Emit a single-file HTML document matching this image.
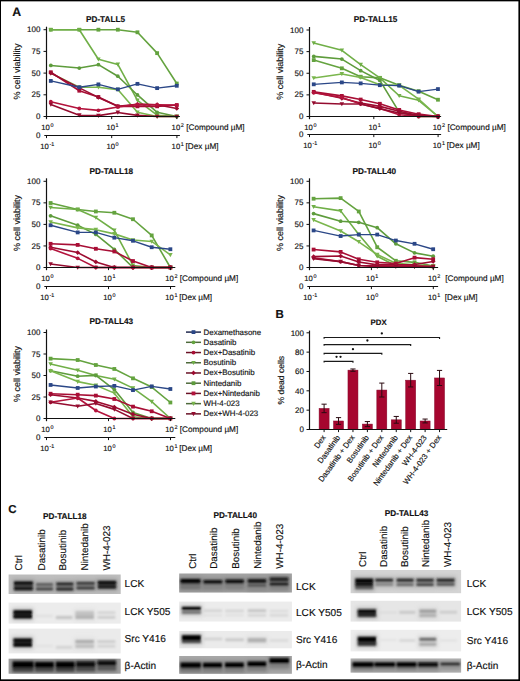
<!DOCTYPE html>
<html><head><meta charset="utf-8"><style>html,body{margin:0;padding:0;background:#fff;}svg{display:block;}</style></head>
<body><svg width="520" height="681" viewBox="0 0 520 681" font-family="Liberation Sans, sans-serif">
<defs><filter id="bl1" x="-20%" y="-100%" width="140%" height="300%"><feGaussianBlur stdDeviation="0.85"/></filter><filter id="blh" x="-20%" y="-100%" width="140%" height="300%"><feGaussianBlur stdDeviation="2.2"/></filter><filter id="bl2" x="-20%" y="-100%" width="140%" height="300%"><feGaussianBlur stdDeviation="0.7"/></filter><filter id="bl3" x="-5%" y="-20%" width="110%" height="140%"><feGaussianBlur stdDeviation="0.5"/></filter></defs>
<style>text{stroke:#111;stroke-width:0.15px;text-rendering:geometricPrecision;}</style>
<rect width="520" height="681" fill="#fff"/>
<text x="12.20" y="15.80" font-size="12.3" text-anchor="start" font-weight="bold" fill="#111" >A</text>
<text x="275.60" y="317.70" font-size="11.5" text-anchor="start" font-weight="bold" fill="#111" >B</text>
<text x="8.20" y="512.70" font-size="11.5" text-anchor="start" font-weight="bold" fill="#111" >C</text>
<text x="105.50" y="22.00" font-size="8.2" text-anchor="middle" font-weight="bold" fill="#111" >PD-TALL5</text>
<text x="0" y="0" font-size="9" text-anchor="middle" fill="#111" transform="translate(20.30,71.60) rotate(-90)">% cell viability</text>
<line x1="43.50" y1="116.50" x2="46.50" y2="116.50" stroke="#111" stroke-width="1"/>
<text x="40.40" y="119.10" font-size="8" text-anchor="end" font-weight="normal" fill="#111" >0</text>
<line x1="43.50" y1="94.80" x2="46.50" y2="94.80" stroke="#111" stroke-width="1"/>
<text x="40.40" y="97.40" font-size="8" text-anchor="end" font-weight="normal" fill="#111" >25</text>
<line x1="43.50" y1="73.10" x2="46.50" y2="73.10" stroke="#111" stroke-width="1"/>
<text x="40.40" y="75.70" font-size="8" text-anchor="end" font-weight="normal" fill="#111" >50</text>
<line x1="43.50" y1="51.40" x2="46.50" y2="51.40" stroke="#111" stroke-width="1"/>
<text x="40.40" y="54.00" font-size="8" text-anchor="end" font-weight="normal" fill="#111" >75</text>
<line x1="43.50" y1="29.70" x2="46.50" y2="29.70" stroke="#111" stroke-width="1"/>
<text x="40.40" y="32.30" font-size="8" text-anchor="end" font-weight="normal" fill="#111" >100</text>
<path d="M50.80,29.70L79.30,29.70L98.40,29.70L117.83,29.70L137.45,32.30L157.14,53.14L176.77,83.52" fill="none" stroke="#64a33f" stroke-width="1.6" stroke-linejoin="round"/>
<rect x="48.90" y="27.80" width="3.80" height="3.80" fill="#64a33f"/>
<rect x="77.40" y="27.80" width="3.80" height="3.80" fill="#64a33f"/>
<rect x="96.50" y="27.80" width="3.80" height="3.80" fill="#64a33f"/>
<rect x="115.93" y="27.80" width="3.80" height="3.80" fill="#64a33f"/>
<rect x="135.55" y="30.40" width="3.80" height="3.80" fill="#64a33f"/>
<rect x="155.24" y="51.24" width="3.80" height="3.80" fill="#64a33f"/>
<rect x="174.87" y="81.62" width="3.80" height="3.80" fill="#64a33f"/>
<path d="M50.80,29.70L79.30,29.70L98.40,59.21L117.83,64.42L137.45,100.27L157.14,115.20L176.77,116.50" fill="none" stroke="#70af47" stroke-width="1.6" stroke-linejoin="round"/>
<path d="M48.52,27.88L53.08,27.88L50.80,31.98Z" fill="#70af47"/>
<path d="M77.02,27.88L81.58,27.88L79.30,31.98Z" fill="#70af47"/>
<path d="M96.12,57.39L100.68,57.39L98.40,61.49Z" fill="#70af47"/>
<path d="M115.55,62.60L120.11,62.60L117.83,66.70Z" fill="#70af47"/>
<path d="M135.17,98.44L139.73,98.44L137.45,102.55Z" fill="#70af47"/>
<path d="M154.86,113.37L159.42,113.37L157.14,117.48Z" fill="#70af47"/>
<path d="M174.49,114.68L179.05,114.68L176.77,118.78Z" fill="#70af47"/>
<path d="M50.80,65.46L79.30,68.07L98.40,64.68L117.83,76.22L137.45,94.97L157.14,112.33L176.77,116.50" fill="none" stroke="#5e9c3c" stroke-width="1.6" stroke-linejoin="round"/>
<circle cx="50.80" cy="65.46" r="1.90" fill="#5e9c3c"/>
<circle cx="79.30" cy="68.07" r="1.90" fill="#5e9c3c"/>
<circle cx="98.40" cy="64.68" r="1.90" fill="#5e9c3c"/>
<circle cx="117.83" cy="76.22" r="1.90" fill="#5e9c3c"/>
<circle cx="137.45" cy="94.97" r="1.90" fill="#5e9c3c"/>
<circle cx="157.14" cy="112.33" r="1.90" fill="#5e9c3c"/>
<circle cx="176.77" cy="116.50" r="1.90" fill="#5e9c3c"/>
<path d="M50.80,73.10L79.30,87.25L98.40,87.25L117.83,89.59L137.45,112.33L157.14,116.50L176.77,116.50" fill="none" stroke="#7ab64d" stroke-width="1.6" stroke-linejoin="round"/>
<path d="M48.52,71.28L53.08,71.28L50.80,75.38Z" fill="#7ab64d"/>
<path d="M77.02,85.42L81.58,85.42L79.30,89.53Z" fill="#7ab64d"/>
<path d="M96.12,85.42L100.68,85.42L98.40,89.53Z" fill="#7ab64d"/>
<path d="M115.55,87.77L120.11,87.77L117.83,91.87Z" fill="#7ab64d"/>
<path d="M135.17,110.51L139.73,110.51L137.45,114.61Z" fill="#7ab64d"/>
<path d="M154.86,114.68L159.42,114.68L157.14,118.78Z" fill="#7ab64d"/>
<path d="M174.49,114.68L179.05,114.68L176.77,118.78Z" fill="#7ab64d"/>
<path d="M50.80,72.23L79.30,90.72L98.40,96.97L117.83,106.34L137.45,106.34L157.14,106.34L176.77,105.04" fill="none" stroke="#a80e35" stroke-width="1.6" stroke-linejoin="round"/>
<rect x="48.90" y="70.33" width="3.80" height="3.80" fill="#a80e35"/>
<rect x="77.40" y="88.82" width="3.80" height="3.80" fill="#a80e35"/>
<rect x="96.50" y="95.07" width="3.80" height="3.80" fill="#a80e35"/>
<rect x="115.93" y="104.44" width="3.80" height="3.80" fill="#a80e35"/>
<rect x="135.55" y="104.44" width="3.80" height="3.80" fill="#a80e35"/>
<rect x="155.24" y="104.44" width="3.80" height="3.80" fill="#a80e35"/>
<rect x="174.87" y="103.14" width="3.80" height="3.80" fill="#a80e35"/>
<path d="M50.80,73.10L79.30,87.86L98.40,97.40L117.83,106.34L137.45,104.35L157.14,104.70L176.77,108.43" fill="none" stroke="#9c0b30" stroke-width="1.6" stroke-linejoin="round"/>
<path d="M48.43,73.10L50.80,70.72L53.18,73.10L50.80,75.47Z" fill="#9c0b30"/>
<path d="M76.92,87.86L79.30,85.48L81.67,87.86L79.30,90.23Z" fill="#9c0b30"/>
<path d="M96.02,97.40L98.40,95.03L100.77,97.40L98.40,99.78Z" fill="#9c0b30"/>
<path d="M115.45,106.34L117.83,103.97L120.20,106.34L117.83,108.72Z" fill="#9c0b30"/>
<path d="M135.08,104.35L137.45,101.97L139.83,104.35L137.45,106.72Z" fill="#9c0b30"/>
<path d="M154.77,104.70L157.14,102.32L159.52,104.70L157.14,107.07Z" fill="#9c0b30"/>
<path d="M174.39,108.43L176.77,106.05L179.14,108.43L176.77,110.80Z" fill="#9c0b30"/>
<path d="M50.80,101.74L79.30,108.51L98.40,110.34L117.83,106.95L137.45,104.35L157.14,104.70L176.77,105.04" fill="none" stroke="#b3133c" stroke-width="1.6" stroke-linejoin="round"/>
<circle cx="50.80" cy="101.74" r="1.90" fill="#b3133c"/>
<circle cx="79.30" cy="108.51" r="1.90" fill="#b3133c"/>
<circle cx="98.40" cy="110.34" r="1.90" fill="#b3133c"/>
<circle cx="117.83" cy="106.95" r="1.90" fill="#b3133c"/>
<circle cx="137.45" cy="104.35" r="1.90" fill="#b3133c"/>
<circle cx="157.14" cy="104.70" r="1.90" fill="#b3133c"/>
<circle cx="176.77" cy="105.04" r="1.90" fill="#b3133c"/>
<path d="M50.80,104.52L79.30,115.20L98.40,115.63L117.83,112.42L137.45,115.37L157.14,116.50L176.77,116.50" fill="none" stroke="#940c2f" stroke-width="1.6" stroke-linejoin="round"/>
<path d="M48.52,102.70L53.08,102.70L50.80,106.80Z" fill="#940c2f"/>
<path d="M77.02,113.37L81.58,113.37L79.30,117.48Z" fill="#940c2f"/>
<path d="M96.12,113.81L100.68,113.81L98.40,117.91Z" fill="#940c2f"/>
<path d="M115.55,110.60L120.11,110.60L117.83,114.70Z" fill="#940c2f"/>
<path d="M135.17,113.55L139.73,113.55L137.45,117.65Z" fill="#940c2f"/>
<path d="M154.86,114.68L159.42,114.68L157.14,118.78Z" fill="#940c2f"/>
<path d="M174.49,114.68L179.05,114.68L176.77,118.78Z" fill="#940c2f"/>
<path d="M50.80,80.91L79.30,87.25L98.40,84.38L117.83,89.33L137.45,83.86L157.14,88.12L176.77,85.77" fill="none" stroke="#2b4787" stroke-width="1.35" stroke-linejoin="round"/>
<rect x="48.90" y="79.01" width="3.80" height="3.80" fill="#2b4787"/>
<rect x="77.40" y="85.35" width="3.80" height="3.80" fill="#2b4787"/>
<rect x="96.50" y="82.48" width="3.80" height="3.80" fill="#2b4787"/>
<rect x="115.93" y="87.43" width="3.80" height="3.80" fill="#2b4787"/>
<rect x="135.55" y="81.96" width="3.80" height="3.80" fill="#2b4787"/>
<rect x="155.24" y="86.22" width="3.80" height="3.80" fill="#2b4787"/>
<rect x="174.87" y="83.87" width="3.80" height="3.80" fill="#2b4787"/>
<line x1="46.50" y1="26.70" x2="46.50" y2="119.10" stroke="#111" stroke-width="1.2"/>
<line x1="46.00" y1="116.50" x2="179.90" y2="116.50" stroke="#111" stroke-width="1.2"/>
<line x1="46.50" y1="116.50" x2="46.50" y2="119.10" stroke="#111" stroke-width="1"/>
<text x="47.30" y="129.80" font-size="7.7" text-anchor="middle" fill="#111">10<tspan font-size="5.4" dx="0.6" dy="-2.9">0</tspan></text>
<line x1="111.70" y1="116.50" x2="111.70" y2="119.10" stroke="#111" stroke-width="1"/>
<text x="112.50" y="129.80" font-size="7.7" text-anchor="middle" fill="#111">10<tspan font-size="5.4" dx="0.6" dy="-2.9">1</tspan></text>
<line x1="176.90" y1="116.50" x2="176.90" y2="119.10" stroke="#111" stroke-width="1"/>
<text x="177.70" y="129.80" font-size="7.7" text-anchor="middle" fill="#111">10<tspan font-size="5.4" dx="0.6" dy="-2.9">2</tspan></text>
<text x="186.20" y="129.80" font-size="8.2" text-anchor="start" font-weight="normal" fill="#111" >[Compound µM]</text>
<text x="40.40" y="138.10" font-size="8" text-anchor="end" font-weight="normal" fill="#111" >0</text>
<line x1="44.30" y1="135.50" x2="179.90" y2="135.50" stroke="#111" stroke-width="1.2"/>
<line x1="46.50" y1="135.50" x2="46.50" y2="138.10" stroke="#111" stroke-width="1"/>
<text x="47.30" y="148.80" font-size="7.7" text-anchor="middle" fill="#111">10<tspan font-size="5.4" dx="0.6" dy="-2.9">-1</tspan></text>
<line x1="111.70" y1="135.50" x2="111.70" y2="138.10" stroke="#111" stroke-width="1"/>
<text x="112.50" y="148.80" font-size="7.7" text-anchor="middle" fill="#111">10<tspan font-size="5.4" dx="0.6" dy="-2.9">0</tspan></text>
<line x1="176.90" y1="135.50" x2="176.90" y2="138.10" stroke="#111" stroke-width="1"/>
<text x="177.70" y="148.80" font-size="7.7" text-anchor="middle" fill="#111">10<tspan font-size="5.4" dx="0.6" dy="-2.9">1</tspan></text>
<text x="185.60" y="148.80" font-size="8.2" text-anchor="start" font-weight="normal" fill="#111" >[Dex µM]</text>
<text x="375.60" y="22.10" font-size="8.2" text-anchor="middle" font-weight="bold" fill="#111" >PD-TALL15</text>
<text x="0" y="0" font-size="9" text-anchor="middle" fill="#111" transform="translate(283.30,71.75) rotate(-90)">% cell viability</text>
<line x1="306.50" y1="116.50" x2="309.50" y2="116.50" stroke="#111" stroke-width="1"/>
<text x="303.40" y="119.10" font-size="8" text-anchor="end" font-weight="normal" fill="#111" >0</text>
<line x1="306.50" y1="94.88" x2="309.50" y2="94.88" stroke="#111" stroke-width="1"/>
<text x="303.40" y="97.47" font-size="8" text-anchor="end" font-weight="normal" fill="#111" >25</text>
<line x1="306.50" y1="73.25" x2="309.50" y2="73.25" stroke="#111" stroke-width="1"/>
<text x="303.40" y="75.85" font-size="8" text-anchor="end" font-weight="normal" fill="#111" >50</text>
<line x1="306.50" y1="51.62" x2="309.50" y2="51.62" stroke="#111" stroke-width="1"/>
<text x="303.40" y="54.23" font-size="8" text-anchor="end" font-weight="normal" fill="#111" >75</text>
<line x1="306.50" y1="30.00" x2="309.50" y2="30.00" stroke="#111" stroke-width="1"/>
<text x="303.40" y="32.60" font-size="8" text-anchor="end" font-weight="normal" fill="#111" >100</text>
<path d="M313.74,60.10L341.84,68.32L360.68,76.71L379.84,77.83L399.20,85.19L418.62,91.16L437.97,99.72" fill="none" stroke="#64a33f" stroke-width="1.6" stroke-linejoin="round"/>
<rect x="311.84" y="58.20" width="3.80" height="3.80" fill="#64a33f"/>
<rect x="339.94" y="66.42" width="3.80" height="3.80" fill="#64a33f"/>
<rect x="358.78" y="74.81" width="3.80" height="3.80" fill="#64a33f"/>
<rect x="377.94" y="75.93" width="3.80" height="3.80" fill="#64a33f"/>
<rect x="397.30" y="83.29" width="3.80" height="3.80" fill="#64a33f"/>
<rect x="416.72" y="89.26" width="3.80" height="3.80" fill="#64a33f"/>
<rect x="436.07" y="97.82" width="3.80" height="3.80" fill="#64a33f"/>
<path d="M313.74,42.97L341.84,50.33L360.68,64.60L379.84,77.83L399.20,95.74L418.62,100.32L437.97,116.50" fill="none" stroke="#70af47" stroke-width="1.6" stroke-linejoin="round"/>
<path d="M311.46,41.15L316.02,41.15L313.74,45.25Z" fill="#70af47"/>
<path d="M339.56,48.50L344.12,48.50L341.84,52.61Z" fill="#70af47"/>
<path d="M358.40,62.78L362.96,62.78L360.68,66.88Z" fill="#70af47"/>
<path d="M377.56,76.01L382.12,76.01L379.84,80.11Z" fill="#70af47"/>
<path d="M396.92,93.92L401.48,93.92L399.20,98.02Z" fill="#70af47"/>
<path d="M416.34,98.50L420.90,98.50L418.62,102.60Z" fill="#70af47"/>
<path d="M435.69,114.68L440.25,114.68L437.97,118.78Z" fill="#70af47"/>
<path d="M313.74,56.38L341.84,59.06L360.68,70.66L379.84,80.43L399.20,112.17L418.62,116.50L437.97,116.50" fill="none" stroke="#5e9c3c" stroke-width="1.6" stroke-linejoin="round"/>
<circle cx="313.74" cy="56.38" r="1.90" fill="#5e9c3c"/>
<circle cx="341.84" cy="59.06" r="1.90" fill="#5e9c3c"/>
<circle cx="360.68" cy="70.66" r="1.90" fill="#5e9c3c"/>
<circle cx="379.84" cy="80.43" r="1.90" fill="#5e9c3c"/>
<circle cx="399.20" cy="112.17" r="1.90" fill="#5e9c3c"/>
<circle cx="418.62" cy="116.50" r="1.90" fill="#5e9c3c"/>
<circle cx="437.97" cy="116.50" r="1.90" fill="#5e9c3c"/>
<path d="M313.74,78.01L341.84,73.94L360.68,77.58L379.84,84.75L399.20,85.36L418.62,99.20L437.97,116.50" fill="none" stroke="#7ab64d" stroke-width="1.6" stroke-linejoin="round"/>
<path d="M311.46,76.18L316.02,76.18L313.74,80.29Z" fill="#7ab64d"/>
<path d="M339.56,72.12L344.12,72.12L341.84,76.22Z" fill="#7ab64d"/>
<path d="M358.40,75.75L362.96,75.75L360.68,79.86Z" fill="#7ab64d"/>
<path d="M377.56,82.93L382.12,82.93L379.84,87.03Z" fill="#7ab64d"/>
<path d="M396.92,83.54L401.48,83.54L399.20,87.64Z" fill="#7ab64d"/>
<path d="M416.34,97.38L420.90,97.38L418.62,101.48Z" fill="#7ab64d"/>
<path d="M435.69,114.68L440.25,114.68L437.97,118.78Z" fill="#7ab64d"/>
<path d="M313.74,91.85L341.84,95.91L360.68,99.55L379.84,103.78L399.20,109.93L418.62,114.16L437.97,116.50" fill="none" stroke="#a80e35" stroke-width="1.6" stroke-linejoin="round"/>
<rect x="311.84" y="89.95" width="3.80" height="3.80" fill="#a80e35"/>
<rect x="339.94" y="94.01" width="3.80" height="3.80" fill="#a80e35"/>
<rect x="358.78" y="97.65" width="3.80" height="3.80" fill="#a80e35"/>
<rect x="377.94" y="101.88" width="3.80" height="3.80" fill="#a80e35"/>
<rect x="397.30" y="108.03" width="3.80" height="3.80" fill="#a80e35"/>
<rect x="416.72" y="112.26" width="3.80" height="3.80" fill="#a80e35"/>
<rect x="436.07" y="114.60" width="3.80" height="3.80" fill="#a80e35"/>
<path d="M313.74,92.28L341.84,98.34L360.68,103.01L379.84,106.38L399.20,111.31L418.62,115.64L437.97,116.50" fill="none" stroke="#9c0b30" stroke-width="1.6" stroke-linejoin="round"/>
<path d="M311.37,92.28L313.74,89.91L316.12,92.28L313.74,94.66Z" fill="#9c0b30"/>
<path d="M339.47,98.34L341.84,95.96L344.22,98.34L341.84,100.71Z" fill="#9c0b30"/>
<path d="M358.31,103.01L360.68,100.63L363.06,103.01L360.68,105.38Z" fill="#9c0b30"/>
<path d="M377.47,106.38L379.84,104.00L382.22,106.38L379.84,108.75Z" fill="#9c0b30"/>
<path d="M396.82,111.31L399.20,108.94L401.57,111.31L399.20,113.69Z" fill="#9c0b30"/>
<path d="M416.24,115.64L418.62,113.26L420.99,115.64L418.62,118.01Z" fill="#9c0b30"/>
<path d="M435.60,116.50L437.97,114.12L440.35,116.50L437.97,118.88Z" fill="#9c0b30"/>
<path d="M313.74,92.71L341.84,97.47L360.68,104.04L379.84,108.37L399.20,114.77L418.62,116.50L437.97,116.50" fill="none" stroke="#b3133c" stroke-width="1.6" stroke-linejoin="round"/>
<circle cx="313.74" cy="92.71" r="1.90" fill="#b3133c"/>
<circle cx="341.84" cy="97.47" r="1.90" fill="#b3133c"/>
<circle cx="360.68" cy="104.04" r="1.90" fill="#b3133c"/>
<circle cx="379.84" cy="108.37" r="1.90" fill="#b3133c"/>
<circle cx="399.20" cy="114.77" r="1.90" fill="#b3133c"/>
<circle cx="418.62" cy="116.50" r="1.90" fill="#b3133c"/>
<circle cx="437.97" cy="116.50" r="1.90" fill="#b3133c"/>
<path d="M313.74,103.01L341.84,104.04L360.68,104.04L379.84,108.72L399.20,113.04L418.62,115.64L437.97,116.50" fill="none" stroke="#940c2f" stroke-width="1.6" stroke-linejoin="round"/>
<path d="M311.46,101.18L316.02,101.18L313.74,105.29Z" fill="#940c2f"/>
<path d="M339.56,102.22L344.12,102.22L341.84,106.32Z" fill="#940c2f"/>
<path d="M358.40,102.22L362.96,102.22L360.68,106.32Z" fill="#940c2f"/>
<path d="M377.56,106.89L382.12,106.89L379.84,111.00Z" fill="#940c2f"/>
<path d="M396.92,111.22L401.48,111.22L399.20,115.32Z" fill="#940c2f"/>
<path d="M416.34,113.81L420.90,113.81L418.62,117.92Z" fill="#940c2f"/>
<path d="M435.69,114.68L440.25,114.68L437.97,118.78Z" fill="#940c2f"/>
<path d="M313.74,84.32L341.84,82.42L360.68,83.37L379.84,85.19L399.20,85.62L418.62,91.67L437.97,89.08" fill="none" stroke="#2b4787" stroke-width="1.35" stroke-linejoin="round"/>
<rect x="311.84" y="82.42" width="3.80" height="3.80" fill="#2b4787"/>
<rect x="339.94" y="80.52" width="3.80" height="3.80" fill="#2b4787"/>
<rect x="358.78" y="81.47" width="3.80" height="3.80" fill="#2b4787"/>
<rect x="377.94" y="83.29" width="3.80" height="3.80" fill="#2b4787"/>
<rect x="397.30" y="83.72" width="3.80" height="3.80" fill="#2b4787"/>
<rect x="416.72" y="89.77" width="3.80" height="3.80" fill="#2b4787"/>
<rect x="436.07" y="87.18" width="3.80" height="3.80" fill="#2b4787"/>
<line x1="309.50" y1="27.00" x2="309.50" y2="119.10" stroke="#111" stroke-width="1.2"/>
<line x1="309.00" y1="116.50" x2="441.10" y2="116.50" stroke="#111" stroke-width="1.2"/>
<line x1="309.50" y1="116.50" x2="309.50" y2="119.10" stroke="#111" stroke-width="1"/>
<text x="310.30" y="129.80" font-size="7.7" text-anchor="middle" fill="#111">10<tspan font-size="5.4" dx="0.6" dy="-2.9">0</tspan></text>
<line x1="373.80" y1="116.50" x2="373.80" y2="119.10" stroke="#111" stroke-width="1"/>
<text x="374.60" y="129.80" font-size="7.7" text-anchor="middle" fill="#111">10<tspan font-size="5.4" dx="0.6" dy="-2.9">1</tspan></text>
<line x1="438.10" y1="116.50" x2="438.10" y2="119.10" stroke="#111" stroke-width="1"/>
<text x="438.90" y="129.80" font-size="7.7" text-anchor="middle" fill="#111">10<tspan font-size="5.4" dx="0.6" dy="-2.9">2</tspan></text>
<text x="447.40" y="129.80" font-size="8.2" text-anchor="start" font-weight="normal" fill="#111" >[Compound µM]</text>
<text x="303.40" y="137.10" font-size="8" text-anchor="end" font-weight="normal" fill="#111" >0</text>
<line x1="307.30" y1="134.50" x2="441.10" y2="134.50" stroke="#111" stroke-width="1.2"/>
<line x1="309.50" y1="134.50" x2="309.50" y2="137.10" stroke="#111" stroke-width="1"/>
<text x="310.30" y="147.80" font-size="7.7" text-anchor="middle" fill="#111">10<tspan font-size="5.4" dx="0.6" dy="-2.9">-1</tspan></text>
<line x1="373.80" y1="134.50" x2="373.80" y2="137.10" stroke="#111" stroke-width="1"/>
<text x="374.60" y="147.80" font-size="7.7" text-anchor="middle" fill="#111">10<tspan font-size="5.4" dx="0.6" dy="-2.9">0</tspan></text>
<line x1="438.10" y1="134.50" x2="438.10" y2="137.10" stroke="#111" stroke-width="1"/>
<text x="438.90" y="147.80" font-size="7.7" text-anchor="middle" fill="#111">10<tspan font-size="5.4" dx="0.6" dy="-2.9">1</tspan></text>
<text x="446.80" y="147.80" font-size="8.2" text-anchor="start" font-weight="normal" fill="#111" >[Dex µM]</text>
<text x="111.30" y="173.70" font-size="8.2" text-anchor="middle" font-weight="bold" fill="#111" >PD-TALL18</text>
<text x="0" y="0" font-size="9" text-anchor="middle" fill="#111" transform="translate(20.30,222.90) rotate(-90)">% cell viability</text>
<line x1="43.50" y1="267.50" x2="46.50" y2="267.50" stroke="#111" stroke-width="1"/>
<text x="40.40" y="270.10" font-size="8" text-anchor="end" font-weight="normal" fill="#111" >0</text>
<line x1="43.50" y1="245.95" x2="46.50" y2="245.95" stroke="#111" stroke-width="1"/>
<text x="40.40" y="248.55" font-size="8" text-anchor="end" font-weight="normal" fill="#111" >25</text>
<line x1="43.50" y1="224.40" x2="46.50" y2="224.40" stroke="#111" stroke-width="1"/>
<text x="40.40" y="227.00" font-size="8" text-anchor="end" font-weight="normal" fill="#111" >50</text>
<line x1="43.50" y1="202.85" x2="46.50" y2="202.85" stroke="#111" stroke-width="1"/>
<text x="40.40" y="205.45" font-size="8" text-anchor="end" font-weight="normal" fill="#111" >75</text>
<line x1="43.50" y1="181.30" x2="46.50" y2="181.30" stroke="#111" stroke-width="1"/>
<text x="40.40" y="183.90" font-size="8" text-anchor="end" font-weight="normal" fill="#111" >100</text>
<path d="M50.59,203.02L77.69,209.49L95.85,211.47L114.33,212.76L132.99,219.23L151.71,235.43L170.38,267.50" fill="none" stroke="#64a33f" stroke-width="1.6" stroke-linejoin="round"/>
<rect x="48.69" y="201.12" width="3.80" height="3.80" fill="#64a33f"/>
<rect x="75.79" y="207.59" width="3.80" height="3.80" fill="#64a33f"/>
<rect x="93.95" y="209.57" width="3.80" height="3.80" fill="#64a33f"/>
<rect x="112.43" y="210.86" width="3.80" height="3.80" fill="#64a33f"/>
<rect x="131.09" y="217.33" width="3.80" height="3.80" fill="#64a33f"/>
<rect x="149.81" y="233.53" width="3.80" height="3.80" fill="#64a33f"/>
<rect x="168.48" y="265.60" width="3.80" height="3.80" fill="#64a33f"/>
<path d="M50.59,207.50L77.69,209.49L95.85,217.59L114.33,230.26L132.99,265.43L151.71,267.50L170.38,267.50" fill="none" stroke="#70af47" stroke-width="1.6" stroke-linejoin="round"/>
<path d="M48.31,205.68L52.87,205.68L50.59,209.78Z" fill="#70af47"/>
<path d="M75.41,207.66L79.97,207.66L77.69,211.77Z" fill="#70af47"/>
<path d="M93.57,215.77L98.13,215.77L95.85,219.87Z" fill="#70af47"/>
<path d="M112.05,228.44L116.61,228.44L114.33,232.54Z" fill="#70af47"/>
<path d="M130.71,263.61L135.27,263.61L132.99,267.71Z" fill="#70af47"/>
<path d="M149.43,265.68L153.99,265.68L151.71,269.78Z" fill="#70af47"/>
<path d="M168.10,265.68L172.66,265.68L170.38,269.78Z" fill="#70af47"/>
<path d="M50.59,215.78L77.69,225.26L95.85,234.40L114.33,249.40L132.99,267.50L151.71,267.50L170.38,267.50" fill="none" stroke="#5e9c3c" stroke-width="1.6" stroke-linejoin="round"/>
<circle cx="50.59" cy="215.78" r="1.90" fill="#5e9c3c"/>
<circle cx="77.69" cy="225.26" r="1.90" fill="#5e9c3c"/>
<circle cx="95.85" cy="234.40" r="1.90" fill="#5e9c3c"/>
<circle cx="114.33" cy="249.40" r="1.90" fill="#5e9c3c"/>
<circle cx="132.99" cy="267.50" r="1.90" fill="#5e9c3c"/>
<circle cx="151.71" cy="267.50" r="1.90" fill="#5e9c3c"/>
<circle cx="170.38" cy="267.50" r="1.90" fill="#5e9c3c"/>
<path d="M50.59,221.99L77.69,227.85L95.85,229.66L114.33,233.88L132.99,240.00L151.71,241.47L170.38,254.91" fill="none" stroke="#7ab64d" stroke-width="1.6" stroke-linejoin="round"/>
<path d="M48.31,220.16L52.87,220.16L50.59,224.27Z" fill="#7ab64d"/>
<path d="M75.41,226.02L79.97,226.02L77.69,230.13Z" fill="#7ab64d"/>
<path d="M93.57,227.83L98.13,227.83L95.85,231.94Z" fill="#7ab64d"/>
<path d="M112.05,232.06L116.61,232.06L114.33,236.16Z" fill="#7ab64d"/>
<path d="M130.71,238.18L135.27,238.18L132.99,242.28Z" fill="#7ab64d"/>
<path d="M149.43,239.64L153.99,239.64L151.71,243.75Z" fill="#7ab64d"/>
<path d="M168.10,253.09L172.66,253.09L170.38,257.19Z" fill="#7ab64d"/>
<path d="M50.59,243.80L77.69,244.92L95.85,248.79L114.33,251.47L132.99,261.04L151.71,267.50L170.38,267.50" fill="none" stroke="#a80e35" stroke-width="1.6" stroke-linejoin="round"/>
<rect x="48.69" y="241.90" width="3.80" height="3.80" fill="#a80e35"/>
<rect x="75.79" y="243.02" width="3.80" height="3.80" fill="#a80e35"/>
<rect x="93.95" y="246.89" width="3.80" height="3.80" fill="#a80e35"/>
<rect x="112.43" y="249.57" width="3.80" height="3.80" fill="#a80e35"/>
<rect x="131.09" y="259.14" width="3.80" height="3.80" fill="#a80e35"/>
<rect x="149.81" y="265.60" width="3.80" height="3.80" fill="#a80e35"/>
<rect x="168.48" y="265.60" width="3.80" height="3.80" fill="#a80e35"/>
<path d="M50.59,247.24L77.69,252.59L95.85,261.98L114.33,267.50L132.99,267.50L151.71,267.50L170.38,267.50" fill="none" stroke="#9c0b30" stroke-width="1.6" stroke-linejoin="round"/>
<path d="M48.22,247.24L50.59,244.87L52.97,247.24L50.59,249.62Z" fill="#9c0b30"/>
<path d="M75.31,252.59L77.69,250.21L80.06,252.59L77.69,254.96Z" fill="#9c0b30"/>
<path d="M93.48,261.98L95.85,259.61L98.23,261.98L95.85,264.36Z" fill="#9c0b30"/>
<path d="M111.95,267.50L114.33,265.12L116.70,267.50L114.33,269.88Z" fill="#9c0b30"/>
<path d="M130.62,267.50L132.99,265.12L135.37,267.50L132.99,269.88Z" fill="#9c0b30"/>
<path d="M149.34,267.50L151.71,265.12L154.09,267.50L151.71,269.88Z" fill="#9c0b30"/>
<path d="M168.00,267.50L170.38,265.12L172.75,267.50L170.38,269.88Z" fill="#9c0b30"/>
<path d="M50.59,248.54L77.69,258.36L95.85,267.50L114.33,267.50L132.99,267.50L151.71,267.50L170.38,267.50" fill="none" stroke="#b3133c" stroke-width="1.6" stroke-linejoin="round"/>
<circle cx="50.59" cy="248.54" r="1.90" fill="#b3133c"/>
<circle cx="77.69" cy="258.36" r="1.90" fill="#b3133c"/>
<circle cx="95.85" cy="267.50" r="1.90" fill="#b3133c"/>
<circle cx="114.33" cy="267.50" r="1.90" fill="#b3133c"/>
<circle cx="132.99" cy="267.50" r="1.90" fill="#b3133c"/>
<circle cx="151.71" cy="267.50" r="1.90" fill="#b3133c"/>
<circle cx="170.38" cy="267.50" r="1.90" fill="#b3133c"/>
<path d="M50.59,264.05L77.69,267.50L95.85,267.50L114.33,267.50L132.99,267.50L151.71,267.50L170.38,267.50" fill="none" stroke="#940c2f" stroke-width="1.6" stroke-linejoin="round"/>
<path d="M48.31,262.23L52.87,262.23L50.59,266.33Z" fill="#940c2f"/>
<path d="M75.41,265.68L79.97,265.68L77.69,269.78Z" fill="#940c2f"/>
<path d="M93.57,265.68L98.13,265.68L95.85,269.78Z" fill="#940c2f"/>
<path d="M112.05,265.68L116.61,265.68L114.33,269.78Z" fill="#940c2f"/>
<path d="M130.71,265.68L135.27,265.68L132.99,269.78Z" fill="#940c2f"/>
<path d="M149.43,265.68L153.99,265.68L151.71,269.78Z" fill="#940c2f"/>
<path d="M168.10,265.68L172.66,265.68L170.38,269.78Z" fill="#940c2f"/>
<path d="M50.59,225.26L77.69,232.42L95.85,232.42L114.33,237.67L132.99,240.78L151.71,247.24L170.38,249.23" fill="none" stroke="#2b4787" stroke-width="1.35" stroke-linejoin="round"/>
<rect x="48.69" y="223.36" width="3.80" height="3.80" fill="#2b4787"/>
<rect x="75.79" y="230.52" width="3.80" height="3.80" fill="#2b4787"/>
<rect x="93.95" y="230.52" width="3.80" height="3.80" fill="#2b4787"/>
<rect x="112.43" y="235.77" width="3.80" height="3.80" fill="#2b4787"/>
<rect x="131.09" y="238.88" width="3.80" height="3.80" fill="#2b4787"/>
<rect x="149.81" y="245.34" width="3.80" height="3.80" fill="#2b4787"/>
<rect x="168.48" y="247.33" width="3.80" height="3.80" fill="#2b4787"/>
<line x1="46.50" y1="178.30" x2="46.50" y2="270.10" stroke="#111" stroke-width="1.2"/>
<line x1="46.00" y1="267.50" x2="175.30" y2="267.50" stroke="#111" stroke-width="1.2"/>
<line x1="46.50" y1="267.50" x2="46.50" y2="270.10" stroke="#111" stroke-width="1"/>
<text x="47.30" y="280.80" font-size="7.7" text-anchor="middle" fill="#111">10<tspan font-size="5.4" dx="0.6" dy="-2.9">0</tspan></text>
<line x1="108.50" y1="267.50" x2="108.50" y2="270.10" stroke="#111" stroke-width="1"/>
<text x="109.30" y="280.80" font-size="7.7" text-anchor="middle" fill="#111">10<tspan font-size="5.4" dx="0.6" dy="-2.9">1</tspan></text>
<line x1="170.50" y1="267.50" x2="170.50" y2="270.10" stroke="#111" stroke-width="1"/>
<text x="171.30" y="280.80" font-size="7.7" text-anchor="middle" fill="#111">10<tspan font-size="5.4" dx="0.6" dy="-2.9">2</tspan></text>
<text x="179.80" y="280.80" font-size="8.2" text-anchor="start" font-weight="normal" fill="#111" >[Compound µM]</text>
<text x="40.40" y="289.10" font-size="8" text-anchor="end" font-weight="normal" fill="#111" >0</text>
<line x1="44.30" y1="286.50" x2="175.30" y2="286.50" stroke="#111" stroke-width="1.2"/>
<line x1="46.50" y1="286.50" x2="46.50" y2="289.10" stroke="#111" stroke-width="1"/>
<text x="47.30" y="299.80" font-size="7.7" text-anchor="middle" fill="#111">10<tspan font-size="5.4" dx="0.6" dy="-2.9">-1</tspan></text>
<line x1="108.50" y1="286.50" x2="108.50" y2="289.10" stroke="#111" stroke-width="1"/>
<text x="109.30" y="299.80" font-size="7.7" text-anchor="middle" fill="#111">10<tspan font-size="5.4" dx="0.6" dy="-2.9">0</tspan></text>
<line x1="170.50" y1="286.50" x2="170.50" y2="289.10" stroke="#111" stroke-width="1"/>
<text x="171.30" y="299.80" font-size="7.7" text-anchor="middle" fill="#111">10<tspan font-size="5.4" dx="0.6" dy="-2.9">1</tspan></text>
<text x="179.20" y="299.80" font-size="8.2" text-anchor="start" font-weight="normal" fill="#111" >[Dex µM]</text>
<text x="374.30" y="173.70" font-size="8.2" text-anchor="middle" font-weight="bold" fill="#111" >PD-TALL40</text>
<text x="0" y="0" font-size="9" text-anchor="middle" fill="#111" transform="translate(283.30,222.90) rotate(-90)">% cell viability</text>
<line x1="306.50" y1="267.50" x2="309.50" y2="267.50" stroke="#111" stroke-width="1"/>
<text x="303.40" y="270.10" font-size="8" text-anchor="end" font-weight="normal" fill="#111" >0</text>
<line x1="306.50" y1="245.95" x2="309.50" y2="245.95" stroke="#111" stroke-width="1"/>
<text x="303.40" y="248.55" font-size="8" text-anchor="end" font-weight="normal" fill="#111" >25</text>
<line x1="306.50" y1="224.40" x2="309.50" y2="224.40" stroke="#111" stroke-width="1"/>
<text x="303.40" y="227.00" font-size="8" text-anchor="end" font-weight="normal" fill="#111" >50</text>
<line x1="306.50" y1="202.85" x2="309.50" y2="202.85" stroke="#111" stroke-width="1"/>
<text x="303.40" y="205.45" font-size="8" text-anchor="end" font-weight="normal" fill="#111" >75</text>
<line x1="306.50" y1="181.30" x2="309.50" y2="181.30" stroke="#111" stroke-width="1"/>
<text x="303.40" y="183.90" font-size="8" text-anchor="end" font-weight="normal" fill="#111" >100</text>
<path d="M313.59,198.71L340.64,198.11L358.77,211.47L377.22,247.24L395.85,260.78L414.54,262.33L433.18,266.03" fill="none" stroke="#64a33f" stroke-width="1.6" stroke-linejoin="round"/>
<rect x="311.69" y="196.81" width="3.80" height="3.80" fill="#64a33f"/>
<rect x="338.74" y="196.21" width="3.80" height="3.80" fill="#64a33f"/>
<rect x="356.87" y="209.57" width="3.80" height="3.80" fill="#64a33f"/>
<rect x="375.32" y="245.34" width="3.80" height="3.80" fill="#64a33f"/>
<rect x="393.95" y="258.88" width="3.80" height="3.80" fill="#64a33f"/>
<rect x="412.64" y="260.43" width="3.80" height="3.80" fill="#64a33f"/>
<rect x="431.28" y="264.13" width="3.80" height="3.80" fill="#64a33f"/>
<path d="M313.59,206.82L340.64,210.87L358.77,234.40L377.22,256.21L395.85,265.78L414.54,266.64L433.18,267.50" fill="none" stroke="#70af47" stroke-width="1.6" stroke-linejoin="round"/>
<path d="M311.31,204.99L315.87,204.99L313.59,209.10Z" fill="#70af47"/>
<path d="M338.36,209.04L342.92,209.04L340.64,213.15Z" fill="#70af47"/>
<path d="M356.49,232.58L361.05,232.58L358.77,236.68Z" fill="#70af47"/>
<path d="M374.94,254.38L379.50,254.38L377.22,258.49Z" fill="#70af47"/>
<path d="M393.57,263.95L398.13,263.95L395.85,268.06Z" fill="#70af47"/>
<path d="M412.26,264.81L416.82,264.81L414.54,268.92Z" fill="#70af47"/>
<path d="M430.90,265.68L435.46,265.68L433.18,269.78Z" fill="#70af47"/>
<path d="M313.59,213.62L340.64,221.21L358.77,222.33L377.22,227.68L395.85,243.80L414.54,252.85L433.18,256.21" fill="none" stroke="#5e9c3c" stroke-width="1.6" stroke-linejoin="round"/>
<circle cx="313.59" cy="213.62" r="1.90" fill="#5e9c3c"/>
<circle cx="340.64" cy="221.21" r="1.90" fill="#5e9c3c"/>
<circle cx="358.77" cy="222.33" r="1.90" fill="#5e9c3c"/>
<circle cx="377.22" cy="227.68" r="1.90" fill="#5e9c3c"/>
<circle cx="395.85" cy="243.80" r="1.90" fill="#5e9c3c"/>
<circle cx="414.54" cy="252.85" r="1.90" fill="#5e9c3c"/>
<circle cx="433.18" cy="256.21" r="1.90" fill="#5e9c3c"/>
<path d="M313.59,219.92L340.64,231.04L358.77,241.81L377.22,254.57L395.85,263.19L414.54,264.91L433.18,266.03" fill="none" stroke="#7ab64d" stroke-width="1.6" stroke-linejoin="round"/>
<path d="M311.31,218.09L315.87,218.09L313.59,222.20Z" fill="#7ab64d"/>
<path d="M338.36,229.21L342.92,229.21L340.64,233.32Z" fill="#7ab64d"/>
<path d="M356.49,239.99L361.05,239.99L358.77,244.09Z" fill="#7ab64d"/>
<path d="M374.94,252.75L379.50,252.75L377.22,256.85Z" fill="#7ab64d"/>
<path d="M393.57,261.37L398.13,261.37L395.85,265.47Z" fill="#7ab64d"/>
<path d="M412.26,263.09L416.82,263.09L414.54,267.19Z" fill="#7ab64d"/>
<path d="M430.90,264.21L435.46,264.21L433.18,268.31Z" fill="#7ab64d"/>
<path d="M313.59,249.57L340.64,251.90L358.77,259.31L377.22,262.33L395.85,263.53L414.54,257.67L433.18,259.22" fill="none" stroke="#a80e35" stroke-width="1.6" stroke-linejoin="round"/>
<rect x="311.69" y="247.67" width="3.80" height="3.80" fill="#a80e35"/>
<rect x="338.74" y="250.00" width="3.80" height="3.80" fill="#a80e35"/>
<rect x="356.87" y="257.41" width="3.80" height="3.80" fill="#a80e35"/>
<rect x="375.32" y="260.43" width="3.80" height="3.80" fill="#a80e35"/>
<rect x="393.95" y="261.63" width="3.80" height="3.80" fill="#a80e35"/>
<rect x="412.64" y="255.77" width="3.80" height="3.80" fill="#a80e35"/>
<rect x="431.28" y="257.32" width="3.80" height="3.80" fill="#a80e35"/>
<path d="M313.59,256.64L340.64,256.04L358.77,261.98L377.22,264.91L395.85,264.91L414.54,264.57L433.18,261.47" fill="none" stroke="#9c0b30" stroke-width="1.6" stroke-linejoin="round"/>
<path d="M311.21,256.64L313.59,254.26L315.96,256.64L313.59,259.01Z" fill="#9c0b30"/>
<path d="M338.26,256.04L340.64,253.66L343.01,256.04L340.64,258.41Z" fill="#9c0b30"/>
<path d="M356.40,261.98L358.77,259.61L361.15,261.98L358.77,264.36Z" fill="#9c0b30"/>
<path d="M374.84,264.91L377.22,262.54L379.59,264.91L377.22,267.29Z" fill="#9c0b30"/>
<path d="M393.48,264.91L395.85,262.54L398.23,264.91L395.85,267.29Z" fill="#9c0b30"/>
<path d="M412.17,264.57L414.54,262.19L416.92,264.57L414.54,266.94Z" fill="#9c0b30"/>
<path d="M430.80,261.47L433.18,259.09L435.55,261.47L433.18,263.84Z" fill="#9c0b30"/>
<path d="M313.59,257.85L340.64,261.64L358.77,265.43L377.22,265.78L395.85,265.78L414.54,265.78L433.18,266.64" fill="none" stroke="#b3133c" stroke-width="1.6" stroke-linejoin="round"/>
<circle cx="313.59" cy="257.85" r="1.90" fill="#b3133c"/>
<circle cx="340.64" cy="261.64" r="1.90" fill="#b3133c"/>
<circle cx="358.77" cy="265.43" r="1.90" fill="#b3133c"/>
<circle cx="377.22" cy="265.78" r="1.90" fill="#b3133c"/>
<circle cx="395.85" cy="265.78" r="1.90" fill="#b3133c"/>
<circle cx="414.54" cy="265.78" r="1.90" fill="#b3133c"/>
<circle cx="433.18" cy="266.64" r="1.90" fill="#b3133c"/>
<path d="M313.59,258.62L340.64,261.64L358.77,265.43L377.22,266.64L395.85,266.64L414.54,266.64L433.18,266.64" fill="none" stroke="#940c2f" stroke-width="1.6" stroke-linejoin="round"/>
<path d="M311.31,256.80L315.87,256.80L313.59,260.90Z" fill="#940c2f"/>
<path d="M338.36,259.81L342.92,259.81L340.64,263.92Z" fill="#940c2f"/>
<path d="M356.49,263.61L361.05,263.61L358.77,267.71Z" fill="#940c2f"/>
<path d="M374.94,264.81L379.50,264.81L377.22,268.92Z" fill="#940c2f"/>
<path d="M393.57,264.81L398.13,264.81L395.85,268.92Z" fill="#940c2f"/>
<path d="M412.26,264.81L416.82,264.81L414.54,268.92Z" fill="#940c2f"/>
<path d="M430.90,264.81L435.46,264.81L433.18,268.92Z" fill="#940c2f"/>
<path d="M313.59,230.43L340.64,236.04L358.77,234.57L377.22,234.57L395.85,240.52L414.54,243.80L433.18,249.23" fill="none" stroke="#2b4787" stroke-width="1.35" stroke-linejoin="round"/>
<rect x="311.69" y="228.53" width="3.80" height="3.80" fill="#2b4787"/>
<rect x="338.74" y="234.14" width="3.80" height="3.80" fill="#2b4787"/>
<rect x="356.87" y="232.67" width="3.80" height="3.80" fill="#2b4787"/>
<rect x="375.32" y="232.67" width="3.80" height="3.80" fill="#2b4787"/>
<rect x="393.95" y="238.62" width="3.80" height="3.80" fill="#2b4787"/>
<rect x="412.64" y="241.90" width="3.80" height="3.80" fill="#2b4787"/>
<rect x="431.28" y="247.33" width="3.80" height="3.80" fill="#2b4787"/>
<line x1="309.50" y1="178.30" x2="309.50" y2="270.10" stroke="#111" stroke-width="1.2"/>
<line x1="309.00" y1="267.50" x2="438.10" y2="267.50" stroke="#111" stroke-width="1.2"/>
<line x1="309.50" y1="267.50" x2="309.50" y2="270.10" stroke="#111" stroke-width="1"/>
<text x="310.30" y="280.80" font-size="7.7" text-anchor="middle" fill="#111">10<tspan font-size="5.4" dx="0.6" dy="-2.9">0</tspan></text>
<line x1="371.40" y1="267.50" x2="371.40" y2="270.10" stroke="#111" stroke-width="1"/>
<text x="372.20" y="280.80" font-size="7.7" text-anchor="middle" fill="#111">10<tspan font-size="5.4" dx="0.6" dy="-2.9">1</tspan></text>
<line x1="433.30" y1="267.50" x2="433.30" y2="270.10" stroke="#111" stroke-width="1"/>
<text x="434.10" y="280.80" font-size="7.7" text-anchor="middle" fill="#111">10<tspan font-size="5.4" dx="0.6" dy="-2.9">2</tspan></text>
<text x="445.30" y="280.80" font-size="8.2" text-anchor="start" font-weight="normal" fill="#111" >[Compound µM]</text>
<text x="303.40" y="289.10" font-size="8" text-anchor="end" font-weight="normal" fill="#111" >0</text>
<line x1="307.30" y1="286.50" x2="438.10" y2="286.50" stroke="#111" stroke-width="1.2"/>
<line x1="309.50" y1="286.50" x2="309.50" y2="289.10" stroke="#111" stroke-width="1"/>
<text x="310.30" y="299.80" font-size="7.7" text-anchor="middle" fill="#111">10<tspan font-size="5.4" dx="0.6" dy="-2.9">-1</tspan></text>
<line x1="371.40" y1="286.50" x2="371.40" y2="289.10" stroke="#111" stroke-width="1"/>
<text x="372.20" y="299.80" font-size="7.7" text-anchor="middle" fill="#111">10<tspan font-size="5.4" dx="0.6" dy="-2.9">0</tspan></text>
<line x1="433.30" y1="286.50" x2="433.30" y2="289.10" stroke="#111" stroke-width="1"/>
<text x="434.10" y="299.80" font-size="7.7" text-anchor="middle" fill="#111">10<tspan font-size="5.4" dx="0.6" dy="-2.9">1</tspan></text>
<text x="444.70" y="299.80" font-size="8.2" text-anchor="start" font-weight="normal" fill="#111" >[Dex µM]</text>
<text x="111.30" y="324.10" font-size="8.2" text-anchor="middle" font-weight="bold" fill="#111" >PD-TALL43</text>
<text x="0" y="0" font-size="9" text-anchor="middle" fill="#111" transform="translate(20.30,374.00) rotate(-90)">% cell viability</text>
<line x1="43.50" y1="418.50" x2="46.50" y2="418.50" stroke="#111" stroke-width="1"/>
<text x="40.40" y="421.10" font-size="8" text-anchor="end" font-weight="normal" fill="#111" >0</text>
<line x1="43.50" y1="397.00" x2="46.50" y2="397.00" stroke="#111" stroke-width="1"/>
<text x="40.40" y="399.60" font-size="8" text-anchor="end" font-weight="normal" fill="#111" >25</text>
<line x1="43.50" y1="375.50" x2="46.50" y2="375.50" stroke="#111" stroke-width="1"/>
<text x="40.40" y="378.10" font-size="8" text-anchor="end" font-weight="normal" fill="#111" >50</text>
<line x1="43.50" y1="354.00" x2="46.50" y2="354.00" stroke="#111" stroke-width="1"/>
<text x="40.40" y="356.60" font-size="8" text-anchor="end" font-weight="normal" fill="#111" >75</text>
<line x1="43.50" y1="332.50" x2="46.50" y2="332.50" stroke="#111" stroke-width="1"/>
<text x="40.40" y="335.10" font-size="8" text-anchor="end" font-weight="normal" fill="#111" >100</text>
<path d="M50.59,358.64L77.69,360.02L95.85,365.01L114.33,368.96L132.99,378.34L151.71,387.02L170.38,402.50" fill="none" stroke="#64a33f" stroke-width="1.6" stroke-linejoin="round"/>
<rect x="48.69" y="356.74" width="3.80" height="3.80" fill="#64a33f"/>
<rect x="75.79" y="358.12" width="3.80" height="3.80" fill="#64a33f"/>
<rect x="93.95" y="363.11" width="3.80" height="3.80" fill="#64a33f"/>
<rect x="112.43" y="367.06" width="3.80" height="3.80" fill="#64a33f"/>
<rect x="131.09" y="376.44" width="3.80" height="3.80" fill="#64a33f"/>
<rect x="149.81" y="385.12" width="3.80" height="3.80" fill="#64a33f"/>
<rect x="168.48" y="400.60" width="3.80" height="3.80" fill="#64a33f"/>
<path d="M50.59,364.06L77.69,370.34L95.85,375.41L114.33,379.28L132.99,388.14L151.71,401.64L170.38,418.50" fill="none" stroke="#70af47" stroke-width="1.6" stroke-linejoin="round"/>
<path d="M48.31,362.24L52.87,362.24L50.59,366.34Z" fill="#70af47"/>
<path d="M75.41,368.52L79.97,368.52L77.69,372.62Z" fill="#70af47"/>
<path d="M93.57,373.59L98.13,373.59L95.85,377.69Z" fill="#70af47"/>
<path d="M112.05,377.46L116.61,377.46L114.33,381.56Z" fill="#70af47"/>
<path d="M130.71,386.32L135.27,386.32L132.99,390.42Z" fill="#70af47"/>
<path d="M149.43,399.82L153.99,399.82L151.71,403.92Z" fill="#70af47"/>
<path d="M168.10,416.68L172.66,416.68L170.38,420.78Z" fill="#70af47"/>
<path d="M50.59,370.77L77.69,376.19L95.85,375.41L114.33,389.60L132.99,412.48L151.71,418.50L170.38,418.50" fill="none" stroke="#5e9c3c" stroke-width="1.6" stroke-linejoin="round"/>
<circle cx="50.59" cy="370.77" r="1.90" fill="#5e9c3c"/>
<circle cx="77.69" cy="376.19" r="1.90" fill="#5e9c3c"/>
<circle cx="95.85" cy="375.41" r="1.90" fill="#5e9c3c"/>
<circle cx="114.33" cy="389.60" r="1.90" fill="#5e9c3c"/>
<circle cx="132.99" cy="412.48" r="1.90" fill="#5e9c3c"/>
<circle cx="151.71" cy="418.50" r="1.90" fill="#5e9c3c"/>
<circle cx="170.38" cy="418.50" r="1.90" fill="#5e9c3c"/>
<path d="M50.59,370.77L77.69,381.61L95.85,385.22L114.33,393.13L132.99,416.78L151.71,418.50L170.38,418.50" fill="none" stroke="#7ab64d" stroke-width="1.6" stroke-linejoin="round"/>
<path d="M48.31,368.95L52.87,368.95L50.59,373.05Z" fill="#7ab64d"/>
<path d="M75.41,379.78L79.97,379.78L77.69,383.89Z" fill="#7ab64d"/>
<path d="M93.57,383.39L98.13,383.39L95.85,387.50Z" fill="#7ab64d"/>
<path d="M112.05,391.31L116.61,391.31L114.33,395.41Z" fill="#7ab64d"/>
<path d="M130.71,414.96L135.27,414.96L132.99,419.06Z" fill="#7ab64d"/>
<path d="M149.43,416.68L153.99,416.68L151.71,420.78Z" fill="#7ab64d"/>
<path d="M168.10,416.68L172.66,416.68L170.38,420.78Z" fill="#7ab64d"/>
<path d="M50.59,393.73L77.69,394.68L95.85,395.62L114.33,398.98L132.99,406.63L151.71,411.28L170.38,418.50" fill="none" stroke="#a80e35" stroke-width="1.6" stroke-linejoin="round"/>
<rect x="48.69" y="391.83" width="3.80" height="3.80" fill="#a80e35"/>
<rect x="75.79" y="392.78" width="3.80" height="3.80" fill="#a80e35"/>
<rect x="93.95" y="393.72" width="3.80" height="3.80" fill="#a80e35"/>
<rect x="112.43" y="397.08" width="3.80" height="3.80" fill="#a80e35"/>
<rect x="131.09" y="404.73" width="3.80" height="3.80" fill="#a80e35"/>
<rect x="149.81" y="409.38" width="3.80" height="3.80" fill="#a80e35"/>
<rect x="168.48" y="416.60" width="3.80" height="3.80" fill="#a80e35"/>
<path d="M50.59,394.68L77.69,398.03L95.85,401.39L114.33,407.06L132.99,414.20L151.71,418.50L170.38,418.50" fill="none" stroke="#9c0b30" stroke-width="1.6" stroke-linejoin="round"/>
<path d="M48.22,394.68L50.59,392.30L52.97,394.68L50.59,397.05Z" fill="#9c0b30"/>
<path d="M75.31,398.03L77.69,395.66L80.06,398.03L77.69,400.41Z" fill="#9c0b30"/>
<path d="M93.48,401.39L95.85,399.01L98.23,401.39L95.85,403.76Z" fill="#9c0b30"/>
<path d="M111.95,407.06L114.33,404.69L116.70,407.06L114.33,409.44Z" fill="#9c0b30"/>
<path d="M130.62,414.20L132.99,411.82L135.37,414.20L132.99,416.57Z" fill="#9c0b30"/>
<path d="M149.34,418.50L151.71,416.12L154.09,418.50L151.71,420.88Z" fill="#9c0b30"/>
<path d="M168.00,418.50L170.38,416.12L172.75,418.50L170.38,420.88Z" fill="#9c0b30"/>
<path d="M50.59,402.33L77.69,398.03L95.85,410.50L114.33,418.50L132.99,418.50L151.71,418.50L170.38,418.50" fill="none" stroke="#b3133c" stroke-width="1.6" stroke-linejoin="round"/>
<circle cx="50.59" cy="402.33" r="1.90" fill="#b3133c"/>
<circle cx="77.69" cy="398.03" r="1.90" fill="#b3133c"/>
<circle cx="95.85" cy="410.50" r="1.90" fill="#b3133c"/>
<circle cx="114.33" cy="418.50" r="1.90" fill="#b3133c"/>
<circle cx="132.99" cy="418.50" r="1.90" fill="#b3133c"/>
<circle cx="151.71" cy="418.50" r="1.90" fill="#b3133c"/>
<circle cx="170.38" cy="418.50" r="1.90" fill="#b3133c"/>
<path d="M50.59,402.33L77.69,406.20L95.85,403.45L114.33,409.38L132.99,418.50L151.71,418.50L170.38,418.50" fill="none" stroke="#940c2f" stroke-width="1.6" stroke-linejoin="round"/>
<path d="M48.31,400.51L52.87,400.51L50.59,404.61Z" fill="#940c2f"/>
<path d="M75.41,404.38L79.97,404.38L77.69,408.48Z" fill="#940c2f"/>
<path d="M93.57,401.63L98.13,401.63L95.85,405.73Z" fill="#940c2f"/>
<path d="M112.05,407.56L116.61,407.56L114.33,411.66Z" fill="#940c2f"/>
<path d="M130.71,416.68L135.27,416.68L132.99,420.78Z" fill="#940c2f"/>
<path d="M149.43,416.68L153.99,416.68L151.71,420.78Z" fill="#940c2f"/>
<path d="M168.10,416.68L172.66,416.68L170.38,420.78Z" fill="#940c2f"/>
<path d="M50.59,384.96L77.69,387.97L95.85,386.51L114.33,385.91L132.99,390.12L151.71,386.34L170.38,389.00" fill="none" stroke="#2b4787" stroke-width="1.35" stroke-linejoin="round"/>
<rect x="48.69" y="383.06" width="3.80" height="3.80" fill="#2b4787"/>
<rect x="75.79" y="386.07" width="3.80" height="3.80" fill="#2b4787"/>
<rect x="93.95" y="384.61" width="3.80" height="3.80" fill="#2b4787"/>
<rect x="112.43" y="384.01" width="3.80" height="3.80" fill="#2b4787"/>
<rect x="131.09" y="388.22" width="3.80" height="3.80" fill="#2b4787"/>
<rect x="149.81" y="384.44" width="3.80" height="3.80" fill="#2b4787"/>
<rect x="168.48" y="387.10" width="3.80" height="3.80" fill="#2b4787"/>
<line x1="46.50" y1="329.50" x2="46.50" y2="421.10" stroke="#111" stroke-width="1.2"/>
<line x1="46.00" y1="418.50" x2="175.30" y2="418.50" stroke="#111" stroke-width="1.2"/>
<line x1="46.50" y1="418.50" x2="46.50" y2="421.10" stroke="#111" stroke-width="1"/>
<text x="47.30" y="431.80" font-size="7.7" text-anchor="middle" fill="#111">10<tspan font-size="5.4" dx="0.6" dy="-2.9">0</tspan></text>
<line x1="108.50" y1="418.50" x2="108.50" y2="421.10" stroke="#111" stroke-width="1"/>
<text x="109.30" y="431.80" font-size="7.7" text-anchor="middle" fill="#111">10<tspan font-size="5.4" dx="0.6" dy="-2.9">1</tspan></text>
<line x1="170.50" y1="418.50" x2="170.50" y2="421.10" stroke="#111" stroke-width="1"/>
<text x="171.30" y="431.80" font-size="7.7" text-anchor="middle" fill="#111">10<tspan font-size="5.4" dx="0.6" dy="-2.9">2</tspan></text>
<text x="179.80" y="431.80" font-size="8.2" text-anchor="start" font-weight="normal" fill="#111" >[Compound µM]</text>
<text x="40.40" y="440.10" font-size="8" text-anchor="end" font-weight="normal" fill="#111" >0</text>
<line x1="44.30" y1="437.50" x2="175.30" y2="437.50" stroke="#111" stroke-width="1.2"/>
<line x1="46.50" y1="437.50" x2="46.50" y2="440.10" stroke="#111" stroke-width="1"/>
<text x="47.30" y="450.80" font-size="7.7" text-anchor="middle" fill="#111">10<tspan font-size="5.4" dx="0.6" dy="-2.9">-1</tspan></text>
<line x1="108.50" y1="437.50" x2="108.50" y2="440.10" stroke="#111" stroke-width="1"/>
<text x="109.30" y="450.80" font-size="7.7" text-anchor="middle" fill="#111">10<tspan font-size="5.4" dx="0.6" dy="-2.9">0</tspan></text>
<line x1="170.50" y1="437.50" x2="170.50" y2="440.10" stroke="#111" stroke-width="1"/>
<text x="171.30" y="450.80" font-size="7.7" text-anchor="middle" fill="#111">10<tspan font-size="5.4" dx="0.6" dy="-2.9">1</tspan></text>
<text x="179.20" y="450.80" font-size="8.2" text-anchor="start" font-weight="normal" fill="#111" >[Dex µM]</text>
<line x1="186" y1="332.10" x2="201" y2="332.10" stroke="#20294f" stroke-width="1.5"/>
<rect x="191.60" y="330.20" width="3.80" height="3.80" fill="#2b4787"/>
<text x="203.60" y="334.60" font-size="7.9" text-anchor="start" font-weight="normal" fill="#111" >Dexamethasone</text>
<line x1="186" y1="342.32" x2="201" y2="342.32" stroke="#4f6a3c" stroke-width="1.5"/>
<circle cx="193.50" cy="342.32" r="1.90" fill="#64a33f"/>
<text x="203.60" y="344.82" font-size="7.9" text-anchor="start" font-weight="normal" fill="#111" >Dasatinib</text>
<line x1="186" y1="352.54" x2="201" y2="352.54" stroke="#6a1226" stroke-width="1.5"/>
<circle cx="193.50" cy="352.54" r="1.90" fill="#a80e35"/>
<text x="203.60" y="355.04" font-size="7.9" text-anchor="start" font-weight="normal" fill="#111" >Dex+Dasatinib</text>
<line x1="186" y1="362.76" x2="201" y2="362.76" stroke="#4f6a3c" stroke-width="1.5"/>
<path d="M191.22,360.94L195.78,360.94L193.50,365.04Z" fill="#70af47"/>
<text x="203.60" y="365.26" font-size="7.9" text-anchor="start" font-weight="normal" fill="#111" >Bosutinib</text>
<line x1="186" y1="372.98" x2="201" y2="372.98" stroke="#6a1226" stroke-width="1.5"/>
<path d="M191.12,372.98L193.50,370.61L195.88,372.98L193.50,375.36Z" fill="#9c0b30"/>
<text x="203.60" y="375.48" font-size="7.9" text-anchor="start" font-weight="normal" fill="#111" >Dex+Bosutinib</text>
<line x1="186" y1="383.20" x2="201" y2="383.20" stroke="#4f6a3c" stroke-width="1.5"/>
<rect x="191.60" y="381.30" width="3.80" height="3.80" fill="#5e9c3c"/>
<text x="203.60" y="385.70" font-size="7.9" text-anchor="start" font-weight="normal" fill="#111" >Nintedanib</text>
<line x1="186" y1="393.42" x2="201" y2="393.42" stroke="#6a1226" stroke-width="1.5"/>
<rect x="191.60" y="391.52" width="3.80" height="3.80" fill="#b3133c"/>
<text x="203.60" y="395.92" font-size="7.9" text-anchor="start" font-weight="normal" fill="#111" >Dex+Nintedanib</text>
<line x1="186" y1="403.64" x2="201" y2="403.64" stroke="#4f6a3c" stroke-width="1.5"/>
<path d="M191.22,401.82L195.78,401.82L193.50,405.92Z" fill="#7ab64d"/>
<text x="203.60" y="406.14" font-size="7.9" text-anchor="start" font-weight="normal" fill="#111" >WH-4-023</text>
<line x1="186" y1="413.86" x2="201" y2="413.86" stroke="#6a1226" stroke-width="1.5"/>
<path d="M191.22,412.04L195.78,412.04L193.50,416.14Z" fill="#940c2f"/>
<text x="203.60" y="416.36" font-size="7.9" text-anchor="start" font-weight="normal" fill="#111" >Dex+WH-4-023</text>
<text x="378.60" y="324.60" font-size="7.8" text-anchor="middle" font-weight="bold" fill="#111" >PDX</text>
<text x="0" y="0" font-size="8.6" text-anchor="middle" fill="#111" transform="translate(284.2,380.2) rotate(-90)">% dead cells</text>
<line x1="306.50" y1="429.50" x2="309.50" y2="429.50" stroke="#111" stroke-width="1"/>
<text x="304.00" y="432.40" font-size="8" text-anchor="end" font-weight="normal" fill="#111" >0</text>
<line x1="306.50" y1="410.16" x2="309.50" y2="410.16" stroke="#111" stroke-width="1"/>
<text x="304.00" y="413.06" font-size="8" text-anchor="end" font-weight="normal" fill="#111" >20</text>
<line x1="306.50" y1="390.82" x2="309.50" y2="390.82" stroke="#111" stroke-width="1"/>
<text x="304.00" y="393.72" font-size="8" text-anchor="end" font-weight="normal" fill="#111" >40</text>
<line x1="306.50" y1="371.48" x2="309.50" y2="371.48" stroke="#111" stroke-width="1"/>
<text x="304.00" y="374.38" font-size="8" text-anchor="end" font-weight="normal" fill="#111" >60</text>
<line x1="306.50" y1="352.14" x2="309.50" y2="352.14" stroke="#111" stroke-width="1"/>
<text x="304.00" y="355.04" font-size="8" text-anchor="end" font-weight="normal" fill="#111" >80</text>
<line x1="306.50" y1="332.80" x2="309.50" y2="332.80" stroke="#111" stroke-width="1"/>
<text x="304.00" y="335.70" font-size="8" text-anchor="end" font-weight="normal" fill="#111" >100</text>
<rect x="319.10" y="408.42" width="10.00" height="21.08" fill="#a6062f" stroke="#85082a" stroke-width="0.5"/>
<path d="M324.10,412.67V404.16M321.50,404.16H326.70M321.50,412.67H326.70" stroke="#2a0a10" stroke-width="1" fill="none"/>
<line x1="324.10" y1="429.50" x2="324.10" y2="432.10" stroke="#111" stroke-width="1"/>
<rect x="333.53" y="420.99" width="10.00" height="8.51" fill="#a6062f" stroke="#85082a" stroke-width="0.5"/>
<path d="M338.53,424.37V417.61M335.93,417.61H341.13M335.93,424.37H341.13" stroke="#2a0a10" stroke-width="1" fill="none"/>
<line x1="338.53" y1="429.50" x2="338.53" y2="432.10" stroke="#111" stroke-width="1"/>
<rect x="347.96" y="370.13" width="10.00" height="59.37" fill="#a6062f" stroke="#85082a" stroke-width="0.5"/>
<path d="M352.96,371.29V368.97M350.36,368.97H355.56M350.36,371.29H355.56" stroke="#2a0a10" stroke-width="1" fill="none"/>
<line x1="352.96" y1="429.50" x2="352.96" y2="432.10" stroke="#111" stroke-width="1"/>
<rect x="362.39" y="424.08" width="10.00" height="5.42" fill="#a6062f" stroke="#85082a" stroke-width="0.5"/>
<path d="M367.39,426.60V421.57M364.79,421.57H369.99M364.79,426.60H369.99" stroke="#2a0a10" stroke-width="1" fill="none"/>
<line x1="367.39" y1="429.50" x2="367.39" y2="432.10" stroke="#111" stroke-width="1"/>
<rect x="376.82" y="390.05" width="10.00" height="39.45" fill="#a6062f" stroke="#85082a" stroke-width="0.5"/>
<path d="M381.82,397.01V383.08M379.22,383.08H384.42M379.22,397.01H384.42" stroke="#2a0a10" stroke-width="1" fill="none"/>
<line x1="381.82" y1="429.50" x2="381.82" y2="432.10" stroke="#111" stroke-width="1"/>
<rect x="391.25" y="419.83" width="10.00" height="9.67" fill="#a6062f" stroke="#85082a" stroke-width="0.5"/>
<path d="M396.25,423.21V416.45M393.65,416.45H398.85M393.65,423.21H398.85" stroke="#2a0a10" stroke-width="1" fill="none"/>
<line x1="396.25" y1="429.50" x2="396.25" y2="432.10" stroke="#111" stroke-width="1"/>
<rect x="405.68" y="380.18" width="10.00" height="49.32" fill="#a6062f" stroke="#85082a" stroke-width="0.5"/>
<path d="M410.68,386.95V373.41M408.08,373.41H413.28M408.08,386.95H413.28" stroke="#2a0a10" stroke-width="1" fill="none"/>
<line x1="410.68" y1="429.50" x2="410.68" y2="432.10" stroke="#111" stroke-width="1"/>
<rect x="420.11" y="420.99" width="10.00" height="8.51" fill="#a6062f" stroke="#85082a" stroke-width="0.5"/>
<path d="M425.11,422.92V419.06M422.51,419.06H427.71M422.51,422.92H427.71" stroke="#2a0a10" stroke-width="1" fill="none"/>
<line x1="425.11" y1="429.50" x2="425.11" y2="432.10" stroke="#111" stroke-width="1"/>
<rect x="434.54" y="377.96" width="10.00" height="51.54" fill="#a6062f" stroke="#85082a" stroke-width="0.5"/>
<path d="M439.54,385.50V370.42M436.94,370.42H442.14M436.94,385.50H442.14" stroke="#2a0a10" stroke-width="1" fill="none"/>
<line x1="439.54" y1="429.50" x2="439.54" y2="432.10" stroke="#111" stroke-width="1"/>
<line x1="309.50" y1="330.6" x2="309.50" y2="430.00" stroke="#111" stroke-width="1.2"/>
<line x1="309.00" y1="429.50" x2="447.2" y2="429.50" stroke="#111" stroke-width="1.2"/>
<text x="0" y="0" font-size="7.85" text-anchor="end" fill="#111" transform="translate(326.10,437.60) rotate(-54)">Dex</text>
<text x="0" y="0" font-size="7.85" text-anchor="end" fill="#111" transform="translate(340.53,437.60) rotate(-54)">Dasatinib</text>
<text x="0" y="0" font-size="7.85" text-anchor="end" fill="#111" transform="translate(354.96,437.60) rotate(-54)">Dasatinib + Dex</text>
<text x="0" y="0" font-size="7.85" text-anchor="end" fill="#111" transform="translate(369.39,437.60) rotate(-54)">Bosutinib</text>
<text x="0" y="0" font-size="7.85" text-anchor="end" fill="#111" transform="translate(383.82,437.60) rotate(-54)">Bosutinib + Dex</text>
<text x="0" y="0" font-size="7.85" text-anchor="end" fill="#111" transform="translate(398.25,437.60) rotate(-54)">Nintedanib</text>
<text x="0" y="0" font-size="7.85" text-anchor="end" fill="#111" transform="translate(412.68,437.60) rotate(-54)">Nintedanib + Dex</text>
<text x="0" y="0" font-size="7.85" text-anchor="end" fill="#111" transform="translate(427.11,437.60) rotate(-54)">WH-4-023</text>
<text x="0" y="0" font-size="7.85" text-anchor="end" fill="#111" transform="translate(441.54,437.60) rotate(-54)">WH-4-023 + Dex</text>
<path d="M324.10,338.70V337.50H439.54V338.90" stroke="#1a1a1a" stroke-width="1.15" fill="none"/>
<circle cx="381.82" cy="333.40" r="1.15" fill="#111"/>
<path d="M324.10,345.80V344.60H410.68V346.00" stroke="#1a1a1a" stroke-width="1.15" fill="none"/>
<circle cx="367.39" cy="340.50" r="1.15" fill="#111"/>
<path d="M324.10,354.50V353.30H381.82V354.70" stroke="#1a1a1a" stroke-width="1.15" fill="none"/>
<circle cx="352.96" cy="349.20" r="1.15" fill="#111"/>
<path d="M324.10,362.60V361.40H352.96V362.80" stroke="#1a1a1a" stroke-width="1.15" fill="none"/>
<circle cx="336.53" cy="356.80" r="1.15" fill="#111"/>
<circle cx="340.53" cy="356.80" r="1.15" fill="#111"/>
<text x="64.80" y="518.80" font-size="8.2" text-anchor="middle" font-weight="bold" fill="#111" >PD-TALL18</text>
<text x="0" y="0" font-size="9.9" fill="#111" transform="translate(22.30,570.50) rotate(-90)">Ctrl</text>
<text x="0" y="0" font-size="9.9" fill="#111" transform="translate(44.60,570.50) rotate(-90)">Dasatinib</text>
<text x="0" y="0" font-size="9.9" fill="#111" transform="translate(66.40,570.50) rotate(-90)">Bosutinib</text>
<text x="0" y="0" font-size="9.9" fill="#111" transform="translate(87.80,570.50) rotate(-90)">Nintedanib</text>
<text x="0" y="0" font-size="9.9" fill="#111" transform="translate(109.80,570.50) rotate(-90)">WH-4-023</text>
<rect x="8.60" y="574.50" width="112.10" height="19.50" fill="#bebebe"/>
<text x="124.60" y="587.00" font-size="10.1" text-anchor="start" font-weight="normal" fill="#111" >LCK</text>
<rect x="8.60" y="602.60" width="112.10" height="21.00" fill="#ececec"/>
<text x="124.60" y="614.70" font-size="10.1" text-anchor="start" font-weight="normal" fill="#111" >LCK Y505</text>
<rect x="8.60" y="628.60" width="112.10" height="24.80" fill="#ebebeb"/>
<text x="124.60" y="642.20" font-size="10.1" text-anchor="start" font-weight="normal" fill="#111" >Src Y416</text>
<rect x="8.60" y="658.70" width="112.10" height="15.00" fill="#a0a0a0"/>
<text x="124.60" y="669.40" font-size="10.1" text-anchor="start" font-weight="normal" fill="#111" >β-Actin</text>
<text x="235.20" y="518.00" font-size="8.2" text-anchor="middle" font-weight="bold" fill="#111" >PD-TALL40</text>
<text x="0" y="0" font-size="9.9" fill="#111" transform="translate(195.60,568.80) rotate(-90)">Ctrl</text>
<text x="0" y="0" font-size="9.9" fill="#111" transform="translate(216.70,568.80) rotate(-90)">Dasatinib</text>
<text x="0" y="0" font-size="9.9" fill="#111" transform="translate(238.70,568.80) rotate(-90)">Bosutinib</text>
<text x="0" y="0" font-size="9.9" fill="#111" transform="translate(261.00,568.80) rotate(-90)">Nintedanib</text>
<text x="0" y="0" font-size="9.9" fill="#111" transform="translate(282.60,568.80) rotate(-90)">WH-4-023</text>
<rect x="179.20" y="573.50" width="112.70" height="19.00" fill="#a4a4a4"/>
<text x="296.00" y="589.60" font-size="10.1" text-anchor="start" font-weight="normal" fill="#111" >LCK</text>
<rect x="179.20" y="601.60" width="112.70" height="19.90" fill="#ececec"/>
<text x="296.00" y="616.00" font-size="10.1" text-anchor="start" font-weight="normal" fill="#111" >LCK Y505</text>
<rect x="179.20" y="631.00" width="112.70" height="17.30" fill="#ebebeb"/>
<text x="296.00" y="642.70" font-size="10.1" text-anchor="start" font-weight="normal" fill="#111" >Src Y416</text>
<rect x="179.20" y="656.00" width="112.70" height="17.80" fill="#a8a8a8"/>
<text x="296.00" y="668.40" font-size="10.1" text-anchor="start" font-weight="normal" fill="#111" >β-Actin</text>
<text x="406.60" y="515.70" font-size="8.2" text-anchor="middle" font-weight="bold" fill="#111" >PD-TALL43</text>
<text x="0" y="0" font-size="9.9" fill="#111" transform="translate(366.00,567.00) rotate(-90)">Ctrl</text>
<text x="0" y="0" font-size="9.9" fill="#111" transform="translate(386.80,567.00) rotate(-90)">Dasatinib</text>
<text x="0" y="0" font-size="9.9" fill="#111" transform="translate(408.20,567.00) rotate(-90)">Bosutinib</text>
<text x="0" y="0" font-size="9.9" fill="#111" transform="translate(429.00,567.00) rotate(-90)">Nintedanib</text>
<text x="0" y="0" font-size="9.9" fill="#111" transform="translate(450.50,567.00) rotate(-90)">WH-4-023</text>
<rect x="350.60" y="570.00" width="110.50" height="23.20" fill="#d4d4d4"/>
<text x="466.70" y="587.00" font-size="10.1" text-anchor="start" font-weight="normal" fill="#111" >LCK</text>
<rect x="350.60" y="600.80" width="110.50" height="20.80" fill="#e6e6e6"/>
<text x="466.70" y="615.30" font-size="10.1" text-anchor="start" font-weight="normal" fill="#111" >LCK Y505</text>
<rect x="350.60" y="629.80" width="110.50" height="21.60" fill="#ededed"/>
<text x="466.70" y="644.00" font-size="10.1" text-anchor="start" font-weight="normal" fill="#111" >Src Y416</text>
<rect x="350.60" y="658.50" width="110.50" height="14.10" fill="#b4b4b4"/>
<text x="466.70" y="668.90" font-size="10.1" text-anchor="start" font-weight="normal" fill="#111" >β-Actin</text>
<clipPath id="cp1"><rect x="8.60" y="574.50" width="112.10" height="19.50"/></clipPath>
<g clip-path="url(#cp1)">
<g filter="url(#blh)">
<rect x="12.50" y="579.30" width="21.90" height="13.20" fill="#9f9f9f"/>
<rect x="34.60" y="581.00" width="19.80" height="11.50" fill="#a8a8a8"/>
<rect x="54.80" y="580.30" width="20.10" height="12.50" fill="#a5a5a5"/>
<rect x="75.00" y="579.70" width="21.20" height="12.00" fill="#a7a7a7"/>
<rect x="96.30" y="578.70" width="21.40" height="12.20" fill="#9f9f9f"/>
</g><g filter="url(#bl1)">
<rect x="36.10" y="586.05" width="16.80" height="1.40" fill="#9c9c9c"/>
<rect x="76.50" y="584.90" width="18.20" height="1.60" fill="#888888"/>
<rect x="56.30" y="585.80" width="17.10" height="1.60" fill="#808080"/>
<rect x="97.80" y="584.10" width="18.40" height="1.60" fill="#686868"/>
<rect x="14.00" y="585.00" width="18.90" height="2.00" fill="#585858"/>
<rect x="36.10" y="583.20" width="16.80" height="2.80" fill="#585858"/>
<rect x="36.10" y="587.50" width="16.80" height="2.80" fill="#3a3a3a"/>
<rect x="76.50" y="586.50" width="18.20" height="3.00" fill="#383838"/>
<rect x="76.50" y="581.90" width="18.20" height="3.00" fill="#343434"/>
<rect x="56.30" y="587.40" width="17.10" height="3.20" fill="#242424"/>
<rect x="56.30" y="582.50" width="17.10" height="3.20" fill="#222222"/>
<rect x="97.80" y="585.30" width="18.40" height="3.40" fill="#181818"/>
<rect x="14.00" y="586.70" width="18.90" height="3.60" fill="#0c0c0c"/>
<rect x="14.00" y="581.50" width="18.90" height="3.60" fill="#000000"/>
<rect x="97.80" y="580.90" width="18.40" height="3.60" fill="#000000"/>
</g></g>
<clipPath id="cp2"><rect x="8.60" y="602.60" width="112.10" height="21.00"/></clipPath>
<g clip-path="url(#cp2)">
<g filter="url(#blh)">
<rect x="11.90" y="608.00" width="21.60" height="12.70" fill="#c6c6c6"/>
<rect x="73.90" y="608.80" width="21.50" height="12.40" fill="#e3e3e3"/>
</g><g filter="url(#bl1)">
<rect x="35.00" y="614.75" width="18.00" height="2.50" fill="#e0e0e0"/>
<rect x="97.40" y="611.30" width="18.00" height="2.80" fill="#d4d4d4"/>
<rect x="97.40" y="615.90" width="18.00" height="2.80" fill="#cccccc"/>
<rect x="55.80" y="615.90" width="16.70" height="3.20" fill="#c6c6c6"/>
<rect x="75.40" y="611.00" width="18.50" height="3.40" fill="#c4c4c4"/>
<rect x="75.40" y="613.80" width="18.50" height="2.40" fill="#c0c0c0"/>
<rect x="75.40" y="615.60" width="18.50" height="3.40" fill="#b4b4b4"/>
<rect x="13.40" y="613.75" width="18.60" height="1.20" fill="#484848"/>
<rect x="13.40" y="610.20" width="18.60" height="3.80" fill="#000000"/>
<rect x="13.40" y="614.70" width="18.60" height="3.80" fill="#000000"/>
</g></g>
<clipPath id="cp3"><rect x="8.60" y="628.60" width="112.10" height="24.80"/></clipPath>
<g clip-path="url(#cp3)">
<g filter="url(#blh)">
<rect x="11.90" y="636.20" width="21.60" height="12.80" fill="#c5c5c5"/>
<rect x="73.90" y="637.80" width="21.50" height="12.20" fill="#e0e0e0"/>
</g><g filter="url(#bl1)">
<rect x="35.00" y="644.75" width="18.00" height="2.50" fill="#e2e2e2"/>
<rect x="55.80" y="645.80" width="16.70" height="3.00" fill="#d4d4d4"/>
<rect x="97.40" y="644.80" width="18.00" height="2.80" fill="#d2d2d2"/>
<rect x="97.40" y="640.20" width="18.00" height="2.80" fill="#cccccc"/>
<rect x="75.40" y="644.60" width="18.50" height="3.20" fill="#bcbcbc"/>
<rect x="75.40" y="640.00" width="18.50" height="3.20" fill="#acacac"/>
<rect x="13.40" y="642.00" width="18.60" height="1.20" fill="#484848"/>
<rect x="13.40" y="638.40" width="18.60" height="3.80" fill="#000000"/>
<rect x="13.40" y="643.00" width="18.60" height="3.80" fill="#000000"/>
</g></g>
<clipPath id="cp4"><rect x="8.60" y="658.70" width="112.10" height="15.00"/></clipPath>
<g clip-path="url(#cp4)">
<g filter="url(#blh)">
<rect x="11.10" y="659.20" width="24.00" height="14.70" fill="#868686"/>
<rect x="33.50" y="659.70" width="21.80" height="14.20" fill="#878787"/>
<rect x="54.30" y="659.40" width="21.80" height="14.50" fill="#868686"/>
<rect x="74.60" y="659.20" width="22.10" height="14.40" fill="#878787"/>
<rect x="95.90" y="658.30" width="21.60" height="14.40" fill="#888888"/>
</g><g filter="url(#bl1)">
<rect x="97.40" y="665.50" width="18.60" height="5.00" fill="#585858"/>
<rect x="76.10" y="666.40" width="19.10" height="5.00" fill="#4c4c4c"/>
<rect x="35.00" y="666.70" width="18.80" height="5.00" fill="#484848"/>
<rect x="12.60" y="666.70" width="21.00" height="5.00" fill="#404040"/>
<rect x="55.80" y="666.70" width="18.80" height="5.00" fill="#404040"/>
<rect x="97.40" y="660.50" width="18.60" height="5.00" fill="#0a0a0a"/>
<rect x="76.10" y="661.40" width="19.10" height="5.60" fill="#080808"/>
<rect x="35.00" y="661.90" width="18.80" height="5.80" fill="#040404"/>
<rect x="55.80" y="661.60" width="18.80" height="6.00" fill="#020202"/>
<rect x="12.60" y="661.40" width="21.00" height="6.20" fill="#000000"/>
</g></g>
<clipPath id="cp5"><rect x="179.20" y="573.50" width="112.70" height="19.00"/></clipPath>
<g clip-path="url(#cp5)">
<g filter="url(#blh)">
<rect x="179.10" y="576.80" width="22.80" height="14.40" fill="#898989"/>
<rect x="201.90" y="577.90" width="21.90" height="13.40" fill="#8b8b8b"/>
<rect x="223.90" y="577.30" width="21.40" height="13.60" fill="#8b8b8b"/>
<rect x="246.20" y="576.80" width="21.50" height="15.40" fill="#8c8c8c"/>
<rect x="268.20" y="575.30" width="21.70" height="16.40" fill="#8e8e8e"/>
</g><g filter="url(#bl1)">
<rect x="247.70" y="587.00" width="18.50" height="3.00" fill="#8c8c8c"/>
<rect x="203.40" y="584.10" width="18.90" height="5.00" fill="#848484"/>
<rect x="269.70" y="586.50" width="18.70" height="3.00" fill="#848484"/>
<rect x="225.40" y="583.70" width="18.40" height="5.00" fill="#808080"/>
<rect x="180.60" y="583.00" width="19.80" height="6.00" fill="#747474"/>
<rect x="247.70" y="584.00" width="18.50" height="3.00" fill="#585858"/>
<rect x="269.70" y="582.40" width="18.70" height="3.60" fill="#242424"/>
<rect x="269.70" y="577.50" width="18.70" height="3.60" fill="#1c1c1c"/>
<rect x="247.70" y="579.00" width="18.50" height="4.00" fill="#141414"/>
<rect x="203.40" y="580.10" width="18.90" height="4.00" fill="#0c0c0c"/>
<rect x="225.40" y="579.50" width="18.40" height="4.20" fill="#080808"/>
<rect x="180.60" y="579.00" width="19.80" height="4.60" fill="#000000"/>
</g></g>
<clipPath id="cp6"><rect x="179.20" y="601.60" width="112.70" height="19.90"/></clipPath>
<g clip-path="url(#cp6)">
<g filter="url(#blh)">
<rect x="180.40" y="604.60" width="22.00" height="11.30" fill="#c7c7c7"/>
</g><g filter="url(#bl1)">
<rect x="203.20" y="614.10" width="19.10" height="2.40" fill="#e0e0e0"/>
<rect x="225.30" y="614.10" width="18.50" height="2.40" fill="#e0e0e0"/>
<rect x="269.70" y="609.80" width="18.50" height="2.40" fill="#dcdcdc"/>
<rect x="269.70" y="614.10" width="18.50" height="2.40" fill="#d6d6d6"/>
<rect x="203.20" y="609.40" width="19.10" height="2.60" fill="#d4d4d4"/>
<rect x="225.30" y="609.60" width="18.50" height="2.60" fill="#d4d4d4"/>
<rect x="247.70" y="614.00" width="18.50" height="2.60" fill="#d4d4d4"/>
<rect x="247.70" y="609.30" width="18.50" height="2.80" fill="#c4c4c4"/>
<rect x="181.90" y="610.90" width="19.00" height="2.80" fill="#6a6a6a"/>
<rect x="181.90" y="606.80" width="19.00" height="3.20" fill="#060606"/>
</g></g>
<clipPath id="cp7"><rect x="179.20" y="631.00" width="112.70" height="17.30"/></clipPath>
<g clip-path="url(#cp7)">
<g filter="url(#blh)">
<rect x="180.40" y="632.90" width="22.00" height="12.30" fill="#c6c6c6"/>
<rect x="246.20" y="635.90" width="21.50" height="8.60" fill="#e1e1e1"/>
</g><g filter="url(#bl1)">
<rect x="269.70" y="639.20" width="18.50" height="2.60" fill="#dadada"/>
<rect x="203.20" y="637.70" width="19.10" height="2.60" fill="#d0d0d0"/>
<rect x="225.30" y="638.40" width="18.50" height="2.80" fill="#c8c8c8"/>
<rect x="247.70" y="638.10" width="18.50" height="4.20" fill="#b0b0b0"/>
<rect x="181.90" y="640.60" width="19.00" height="2.40" fill="#404040"/>
<rect x="181.90" y="635.10" width="19.00" height="5.40" fill="#040404"/>
</g></g>
<clipPath id="cp8"><rect x="179.20" y="656.00" width="112.70" height="17.80"/></clipPath>
<g clip-path="url(#cp8)">
<g filter="url(#blh)">
<rect x="179.00" y="660.30" width="23.40" height="13.90" fill="#8d8d8d"/>
<rect x="201.50" y="660.50" width="22.00" height="13.70" fill="#8d8d8d"/>
<rect x="223.50" y="660.30" width="21.80" height="13.70" fill="#8d8d8d"/>
<rect x="246.00" y="659.30" width="21.70" height="13.70" fill="#8e8e8e"/>
<rect x="268.00" y="655.90" width="22.50" height="13.80" fill="#8d8d8d"/>
</g><g filter="url(#bl1)">
<rect x="203.00" y="668.00" width="19.00" height="4.00" fill="#808080"/>
<rect x="225.00" y="667.80" width="18.80" height="4.00" fill="#808080"/>
<rect x="247.50" y="666.80" width="18.70" height="4.00" fill="#808080"/>
<rect x="269.50" y="663.50" width="19.50" height="4.00" fill="#808080"/>
<rect x="180.50" y="668.00" width="20.40" height="4.00" fill="#787878"/>
<rect x="247.50" y="661.50" width="18.70" height="5.40" fill="#060606"/>
<rect x="203.00" y="662.70" width="19.00" height="5.40" fill="#040404"/>
<rect x="225.00" y="662.50" width="18.80" height="5.40" fill="#040404"/>
<rect x="269.50" y="658.10" width="19.50" height="5.40" fill="#040404"/>
<rect x="180.50" y="662.50" width="20.40" height="5.80" fill="#000000"/>
</g></g>
<clipPath id="cp9"><rect x="350.60" y="570.00" width="110.50" height="23.20"/></clipPath>
<g clip-path="url(#cp9)">
<g filter="url(#blh)">
<rect x="353.70" y="576.30" width="21.00" height="15.10" fill="#b2b2b2"/>
<rect x="373.80" y="576.40" width="20.80" height="11.50" fill="#b9b9b9"/>
<rect x="395.10" y="576.40" width="20.00" height="11.80" fill="#b8b8b8"/>
<rect x="414.90" y="576.40" width="20.30" height="11.80" fill="#b9b9b9"/>
<rect x="435.10" y="576.40" width="21.00" height="11.50" fill="#b7b7b7"/>
</g><g filter="url(#bl1)">
<rect x="375.30" y="583.10" width="17.80" height="2.60" fill="#808080"/>
<rect x="396.60" y="583.20" width="17.00" height="2.80" fill="#686868"/>
<rect x="355.20" y="586.60" width="18.00" height="2.60" fill="#505050"/>
<rect x="436.60" y="582.90" width="18.00" height="2.80" fill="#505050"/>
<rect x="416.40" y="583.20" width="17.30" height="2.80" fill="#404040"/>
<rect x="375.30" y="578.60" width="17.80" height="3.20" fill="#2c2c2c"/>
<rect x="416.40" y="578.60" width="17.30" height="3.20" fill="#2c2c2c"/>
<rect x="396.60" y="578.60" width="17.00" height="3.20" fill="#282828"/>
<rect x="436.60" y="578.60" width="18.00" height="3.20" fill="#202020"/>
<rect x="355.20" y="582.80" width="18.00" height="3.60" fill="#141414"/>
<rect x="355.20" y="578.50" width="18.00" height="4.20" fill="#000000"/>
</g></g>
<clipPath id="cp10"><rect x="350.60" y="600.80" width="110.50" height="20.80"/></clipPath>
<g clip-path="url(#cp10)">
<g filter="url(#blh)">
<rect x="356.20" y="607.10" width="21.50" height="12.20" fill="#c3c3c3"/>
<rect x="417.90" y="607.40" width="19.80" height="11.90" fill="#dadada"/>
</g><g filter="url(#bl1)">
<rect x="378.00" y="611.50" width="19.00" height="2.00" fill="#dcdcdc"/>
<rect x="439.70" y="610.80" width="17.30" height="2.80" fill="#cccccc"/>
<rect x="399.30" y="610.90" width="16.10" height="2.80" fill="#c8c8c8"/>
<rect x="419.40" y="613.90" width="16.80" height="3.20" fill="#b0b0b0"/>
<rect x="419.40" y="609.60" width="16.80" height="3.20" fill="#9c9c9c"/>
<rect x="357.70" y="612.10" width="18.50" height="2.20" fill="#383838"/>
<rect x="357.70" y="613.50" width="18.50" height="3.60" fill="#282828"/>
<rect x="357.70" y="609.30" width="18.50" height="3.80" fill="#101010"/>
</g></g>
<clipPath id="cp11"><rect x="350.60" y="629.80" width="110.50" height="21.60"/></clipPath>
<g clip-path="url(#cp11)">
<g filter="url(#blh)">
<rect x="356.20" y="634.50" width="21.50" height="13.60" fill="#c7c7c7"/>
<rect x="417.90" y="635.60" width="19.80" height="12.30" fill="#d7d7d7"/>
</g><g filter="url(#bl1)">
<rect x="378.00" y="639.00" width="19.00" height="2.00" fill="#e4e4e4"/>
<rect x="439.70" y="639.50" width="17.30" height="2.00" fill="#e0e0e0"/>
<rect x="399.30" y="639.20" width="16.10" height="2.60" fill="#d6d6d6"/>
<rect x="419.40" y="642.70" width="16.80" height="3.00" fill="#a8a8a8"/>
<rect x="419.40" y="637.80" width="16.80" height="3.00" fill="#686868"/>
<rect x="357.70" y="642.10" width="18.50" height="3.80" fill="#303030"/>
<rect x="357.70" y="640.30" width="18.50" height="2.20" fill="#282828"/>
<rect x="357.70" y="636.70" width="18.50" height="4.40" fill="#020202"/>
</g></g>
<clipPath id="cp12"><rect x="350.60" y="658.50" width="110.50" height="14.10"/></clipPath>
<g clip-path="url(#cp12)">
<g filter="url(#blh)">
<rect x="351.00" y="659.90" width="24.00" height="12.90" fill="#979797"/>
<rect x="373.00" y="660.10" width="23.50" height="12.70" fill="#989898"/>
<rect x="395.00" y="660.00" width="23.00" height="12.80" fill="#979797"/>
<rect x="416.50" y="660.10" width="23.00" height="12.70" fill="#989898"/>
<rect x="439.00" y="660.30" width="22.50" height="10.90" fill="#9e9e9e"/>
</g><g filter="url(#bl1)">
<rect x="440.50" y="666.00" width="19.50" height="3.00" fill="#989898"/>
<rect x="374.50" y="667.00" width="20.50" height="3.60" fill="#909090"/>
<rect x="418.00" y="667.00" width="20.00" height="3.60" fill="#909090"/>
<rect x="352.50" y="667.00" width="21.00" height="3.60" fill="#888888"/>
<rect x="396.50" y="667.00" width="20.00" height="3.60" fill="#888888"/>
<rect x="440.50" y="662.50" width="19.50" height="3.40" fill="#303030"/>
<rect x="418.00" y="662.30" width="20.00" height="5.00" fill="#080808"/>
<rect x="374.50" y="662.30" width="20.50" height="5.00" fill="#060606"/>
<rect x="396.50" y="662.20" width="20.00" height="5.20" fill="#040404"/>
<rect x="352.50" y="662.10" width="21.00" height="5.40" fill="#020202"/>
</g></g>
<rect x="0" y="1" width="520" height="1" fill="#000" opacity="0.35"/>
<rect x="518" y="0" width="1" height="681" fill="#000" opacity="0.6"/>
<rect x="0" y="679" width="520" height="1" fill="#000" opacity="0.65"/>
<rect x="0" y="0" width="520" height="1" fill="#000"/>
<rect x="0" y="680" width="520" height="1" fill="#000"/>
<rect x="0" y="0" width="1" height="681" fill="#000"/>
<rect x="519" y="0" width="1" height="681" fill="#000"/>
</svg></body></html>
